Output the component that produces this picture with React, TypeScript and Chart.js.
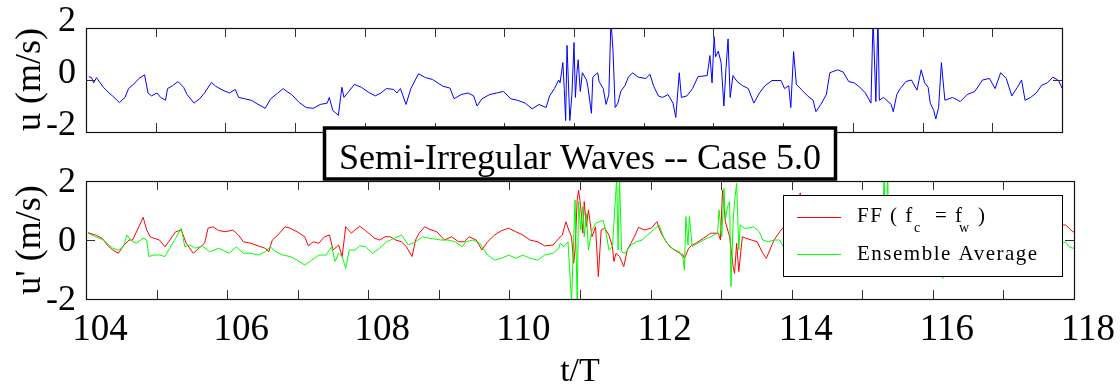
import React, { useEffect, useRef } from 'react';
import { Chart, registerables } from 'chart.js';

Chart.register(...registerables);

const SERIF = '"Liberation Serif", "Times New Roman", Times, serif';

// axis ranges and tick values
const X_MIN = 104;
const X_MAX = 118;
const xLabelValues = [104, 106, 108, 110, 112, 114, 116, 118];
const yTickValues = [-2, 0, 2];

// texts
const chartTitle = 'Semi-Irregular Waves -- Case 5.0';
const topYLabel = 'u (m/s)';
const bottomYLabel = "u' (m/s)";
const xLabel = 't/T';
const legendEnsemble = 'Ensemble Average';

// top panel: u (m/s) vs t/T   [t, u]
const uSeries: [number, number][] = [
  [104.04, 0.13], [104.08, 0.09], [104.11, -0.11], [104.15, 0.09], [104.25, -0.28], [104.33, -0.5], [104.38, -0.61],
  [104.48, -0.87], [104.56, -0.67], [104.61, -0.33], [104.68, -0.17], [104.76, 0.06], [104.84, 0.2], [104.89, -0.5],
  [104.94, -0.61], [105.02, -0.5], [105.07, -0.67], [105.14, -0.78], [105.17, -0.33], [105.24, -0.22], [105.32, -0.06],
  [105.4, -0.28], [105.45, -0.56], [105.55, -0.89], [105.63, -0.72], [105.7, -0.5], [105.8, -0.09], [105.86, -0.24],
  [105.96, -0.39], [106.06, -0.5], [106.14, -0.36], [106.19, -0.67], [106.27, -0.72], [106.37, -0.78], [106.44, -0.89],
  [106.57, -1.09], [106.65, -0.72], [106.75, -0.5], [106.83, -0.33], [106.88, -0.44], [106.95, -0.56], [107.06, -0.87],
  [107.16, -1.06], [107.26, -1.09], [107.36, -0.94], [107.46, -0.89], [107.49, -0.67], [107.54, -1.17], [107.62, -1.36],
  [107.67, -0.28], [107.7, -0.67], [107.77, -0.44], [107.85, -0.17], [107.95, -0.28], [108.05, -0.47], [108.15, -0.61],
  [108.23, -0.5], [108.31, -0.33], [108.41, -0.36], [108.46, -0.5], [108.51, -0.33], [108.59, -0.94], [108.66, -0.33],
  [108.77, 0.24], [108.87, 0.09], [108.97, 0.02], [109.12, -0.24], [109.22, -0.31], [109.28, -0.72], [109.38, -0.56],
  [109.48, -0.5], [109.56, -0.61], [109.61, -1.0], [109.68, -0.72], [109.79, -0.56], [109.89, -0.5], [109.99, -0.44],
  [110.09, -0.72], [110.19, -0.78], [110.3, -0.89], [110.4, -1.11], [110.5, -0.94], [110.6, -1.06], [110.65, -0.61],
  [110.72, -0.33], [110.78, 0.0], [110.8, -0.11], [110.84, 0.67], [110.86, -0.33], [110.88, -1.56], [110.9, 1.33],
  [110.94, -1.56], [110.97, -0.56], [111.0, 1.44], [111.02, -0.67], [111.04, 0.22], [111.06, 0.78], [111.09, -0.44],
  [111.12, 0.28], [111.18, 0.0], [111.2, -0.28], [111.25, -1.28], [111.27, 0.11], [111.34, 0.28], [111.36, -0.06],
  [111.42, -0.33], [111.46, -0.94], [111.5, -0.56], [111.53, 2.3], [111.56, 1.11], [111.59, -1.06], [111.63, -0.89],
  [111.67, -0.44], [111.73, -0.22], [111.78, 0.11], [111.84, 0.28], [111.92, 0.11], [112.03, 0.06], [112.09, 0.22],
  [112.14, -0.22], [112.21, -0.61], [112.27, -0.67], [112.35, -0.56], [112.42, -0.89], [112.46, -1.44], [112.51, 0.28],
  [112.54, -0.67], [112.62, -0.61], [112.7, -0.33], [112.78, 0.13], [112.91, 0.17], [112.95, 0.94], [112.98, -0.11],
  [113.01, 1.67], [113.03, 0.89], [113.07, 1.11], [113.11, 0.67], [113.15, -1.0], [113.18, 0.44], [113.21, 1.58],
  [113.24, -0.67], [113.28, 0.17], [113.34, -0.06], [113.42, -0.22], [113.5, -0.33], [113.58, -0.89], [113.66, -0.5],
  [113.74, -0.22], [113.84, -0.02], [113.97, -0.02], [114.02, -0.33], [114.08, -0.22], [114.11, -1.06], [114.15, 1.09],
  [114.19, -0.17], [114.27, -0.39], [114.35, -0.61], [114.43, -0.78], [114.47, -1.22], [114.54, -0.94], [114.62, -0.56],
  [114.67, 0.28], [114.78, 0.39], [114.86, 0.31], [114.94, -0.06], [115.02, -0.11], [115.1, -0.28], [115.18, -0.5],
  [115.26, -0.89], [115.29, 2.4], [115.33, -0.83], [115.36, 2.4], [115.38, -0.78], [115.44, -0.67], [115.55, -0.94],
  [115.58, -1.22], [115.63, -0.56], [115.68, -0.33], [115.76, -0.06], [115.84, 0.0], [115.92, -0.39], [115.98, 0.39],
  [116.03, -0.11], [116.08, -0.28], [116.11, -0.89], [116.16, -1.17], [116.19, -1.5], [116.23, -1.06], [116.27, 0.67],
  [116.32, -0.78], [116.43, -0.67], [116.54, -0.83], [116.64, -0.56], [116.75, -0.44], [116.86, 0.0], [116.96, 0.06],
  [117.04, -0.33], [117.12, 0.28], [117.2, 0.06], [117.28, -0.61], [117.36, -0.28], [117.42, 0.0], [117.47, -0.78],
  [117.55, -0.67], [117.63, -0.5], [117.71, -0.2], [117.79, -0.11], [117.87, 0.11], [117.95, -0.02], [118.0, -0.31],
];

// bottom panel: FF (fc = fw)   [t, u']
const ffSeries: [number, number][] = [
  [104.03, 0.25], [104.13, 0.17], [104.23, 0.06], [104.3, -0.17], [104.38, -0.34], [104.46, -0.45], [104.53, -0.2],
  [104.61, 0.0], [104.66, 0.0], [104.74, 0.4], [104.81, 0.77], [104.86, 0.34], [104.91, 0.11], [104.96, 0.06],
  [105.04, 0.0], [105.12, -0.23], [105.17, -0.06], [105.27, 0.28], [105.35, 0.34], [105.42, -0.11], [105.52, -0.45],
  [105.6, -0.28], [105.68, -0.11], [105.73, 0.4], [105.8, 0.45], [105.88, 0.32], [105.98, 0.28], [106.08, 0.34],
  [106.16, 0.17], [106.23, -0.06], [106.34, -0.11], [106.44, -0.2], [106.54, -0.28], [106.59, -0.4], [106.64, 0.0],
  [106.72, 0.17], [106.82, 0.45], [106.89, 0.4], [106.99, 0.28], [107.1, 0.11], [107.15, -0.2], [107.22, -0.06],
  [107.3, -0.11], [107.38, 0.11], [107.45, 0.17], [107.5, -0.34], [107.58, -0.17], [107.63, -0.56], [107.68, 0.45],
  [107.76, 0.23], [107.81, 0.34], [107.88, 0.47], [107.98, 0.28], [108.09, 0.06], [108.16, 0.0], [108.24, 0.11],
  [108.31, 0.11], [108.39, 0.0], [108.47, -0.06], [108.54, -0.23], [108.62, -0.56], [108.67, 0.0], [108.72, 0.23],
  [108.8, 0.45], [108.87, 0.36], [108.97, 0.28], [109.08, 0.0], [109.18, 0.11], [109.28, -0.06], [109.36, -0.06],
  [109.43, 0.11], [109.53, 0.0], [109.61, -0.34], [109.69, -0.06], [109.79, 0.17], [109.89, 0.32], [109.99, 0.4],
  [110.09, 0.28], [110.19, 0.17], [110.29, 0.0], [110.4, -0.06], [110.5, -0.2], [110.62, -0.17], [110.7, 0.06],
  [110.75, 0.17], [110.8, 0.62], [110.84, 0.34], [110.88, 0.11], [110.91, -0.79], [110.93, -0.34], [110.96, 1.36],
  [110.98, 1.69], [111.01, 1.13], [111.04, 0.23], [111.06, 1.3], [111.09, 0.45], [111.12, 1.02], [111.17, 0.11],
  [111.22, 0.45], [111.26, -1.24], [111.3, 0.34], [111.35, 0.4], [111.41, 0.17], [111.46, -0.23], [111.48, -0.73],
  [111.51, -0.45], [111.56, -0.56], [111.62, -0.9], [111.67, -0.34], [111.72, -0.11], [111.77, 0.11], [111.83, 0.43],
  [111.91, 0.34], [112.01, 0.4], [112.09, 0.62], [112.14, 0.28], [112.22, -0.06], [112.3, -0.28], [112.38, -0.4],
  [112.46, -0.51], [112.48, -0.62], [112.54, -0.28], [112.59, -0.17], [112.64, -0.11], [112.75, 0.06], [112.85, 0.23],
  [112.96, 0.23], [112.99, 0.0], [113.02, 1.69], [113.06, 0.62], [113.12, 0.11], [113.17, -0.9], [113.19, -1.13],
  [113.22, -0.11], [113.25, -1.07], [113.3, 0.11], [113.35, 0.06], [113.43, 0.0], [113.51, -0.06], [113.59, -0.45],
  [113.64, -0.62], [113.69, -0.34], [113.75, 0.0], [113.83, 0.28], [113.88, 0.43], [113.95, 0.3], [114.05, 0.45],
  [114.1, 0.2], [114.12, 1.6], [114.14, 0.3], [114.3, 0.1], [114.45, -0.4], [114.55, -0.2], [114.68, 0.6],
  [114.8, 0.8], [114.95, 0.5], [115.1, 0.3], [115.25, -0.3], [115.3, 0.9], [115.34, -0.4], [115.5, 0.1],
  [115.58, -0.5], [115.75, 0.3], [115.9, 0.4], [116.0, 0.8], [116.1, -0.2], [116.18, -0.9], [116.26, 1.0],
  [116.4, 0.1], [116.6, 0.1], [116.8, 0.5], [117.0, 0.6], [117.12, 0.8], [117.28, 0.0], [117.45, 0.4],
  [117.6, 0.2], [117.75, 0.5], [117.88, 0.51], [117.93, 0.4], [117.98, 0.28], [118.05, 0.28],
];

// bottom panel: Ensemble Average   [t, u']
const ensSeries: [number, number][] = [
  [104.03, 0.23], [104.13, 0.11], [104.23, 0.02], [104.3, -0.11], [104.38, -0.28], [104.46, -0.34], [104.53, -0.23],
  [104.58, 0.17], [104.63, 0.0], [104.71, -0.11], [104.81, 0.06], [104.86, 0.0], [104.89, -0.56], [104.96, -0.51],
  [105.04, -0.51], [105.12, -0.56], [105.17, -0.34], [105.27, 0.06], [105.35, 0.4], [105.4, -0.23], [105.47, -0.17],
  [105.55, -0.28], [105.65, -0.2], [105.75, -0.4], [105.88, -0.28], [106.03, -0.45], [106.13, -0.23], [106.23, -0.45],
  [106.34, -0.45], [106.44, -0.51], [106.54, -0.4], [106.61, -0.23], [106.69, -0.4], [106.79, -0.51], [106.89, -0.56],
  [106.99, -0.68], [107.1, -0.85], [107.2, -0.68], [107.3, -0.51], [107.4, -0.51], [107.48, -0.23], [107.53, -0.73],
  [107.58, -0.45], [107.63, -0.56], [107.68, -0.96], [107.73, -0.34], [107.81, -0.34], [107.88, -0.2], [107.96, -0.23],
  [108.06, -0.45], [108.16, -0.28], [108.26, -0.06], [108.37, 0.06], [108.47, 0.17], [108.57, -0.17], [108.67, -0.06],
  [108.77, 0.11], [108.87, 0.06], [109.03, 0.0], [109.13, 0.0], [109.23, -0.06], [109.33, -0.23], [109.38, -0.06],
  [109.48, 0.0], [109.58, -0.11], [109.69, -0.51], [109.79, -0.68], [109.89, -0.62], [109.99, -0.51], [110.09, -0.62],
  [110.19, -0.51], [110.29, -0.62], [110.4, -0.68], [110.5, -0.51], [110.62, -0.45], [110.7, -0.28], [110.72, -0.11],
  [110.77, -0.23], [110.83, -0.06], [110.88, -2.1], [110.91, 0.0], [110.93, 1.36], [110.96, -2.1], [110.98, 1.3],
  [111.01, 0.34], [111.04, 1.13], [111.06, 0.11], [111.09, 0.9], [111.12, -0.34], [111.17, 0.34], [111.22, 0.56],
  [111.27, 0.62], [111.33, 0.66], [111.37, 0.23], [111.41, -0.34], [111.46, -0.23], [111.52, 2.1], [111.54, -0.34],
  [111.56, 2.1], [111.59, -0.4], [111.64, -0.45], [111.72, -0.17], [111.8, -0.06], [111.88, 0.0], [111.96, 0.17],
  [112.04, 0.34], [112.12, 0.51], [112.19, 0.06], [112.27, -0.23], [112.35, -0.34], [112.41, -0.4], [112.46, -0.62],
  [112.48, -1.02], [112.5, 0.79], [112.53, -0.17], [112.55, 0.79], [112.59, -0.23], [112.67, -0.11], [112.75, 0.0],
  [112.85, 0.11], [112.95, 0.23], [112.97, 1.02], [113.01, 0.11], [113.04, 1.75], [113.06, 0.68], [113.09, 1.13],
  [113.12, 1.3], [113.14, -1.58], [113.17, 0.62], [113.19, 1.3], [113.22, 1.92], [113.25, -0.34], [113.27, 0.51],
  [113.33, 0.4], [113.38, 0.4], [113.46, 0.45], [113.54, 0.28], [113.59, 0.0], [113.67, -0.06], [113.75, 0.0],
  [113.83, 0.0], [113.88, -0.23], [113.95, -0.1], [114.05, 0.1], [114.12, 0.9], [114.16, -0.1], [114.3, -0.3],
  [114.45, -0.7], [114.55, -0.5], [114.68, 0.3], [114.8, 0.5], [114.95, 0.1], [115.1, -0.1], [115.25, -0.6],
  [115.28, -0.6], [115.31, 2.3], [115.33, -0.5], [115.36, 2.3], [115.38, -0.6], [115.5, -0.4], [115.58, -0.9],
  [115.75, -0.2], [115.9, -0.1], [116.0, 0.4], [116.1, -0.6], [116.14, -1.3], [116.2, -0.9], [116.26, 0.6],
  [116.4, -0.4], [116.6, -0.5], [116.8, -0.1], [117.0, -0.1], [117.12, 0.2], [117.28, -0.5], [117.45, -0.2],
  [117.6, -0.4], [117.75, -0.2], [117.88, -0.06], [117.93, -0.23], [117.98, -0.28], [118.05, -0.23],
];

const toPoints = (s: [number, number][]) => s.map(([x, y]) => ({ x, y }));

const boxTicksPlugin = {
  id: 'boxTicks',
  afterDatasetsDraw(chart: any) {
    const { ctx, chartArea: a, scales } = chart;
    const xs = scales.x;
    const ys = scales.y;
    const L = 9;
    ctx.save();
    ctx.strokeStyle = '#333';
    ctx.lineWidth = 1;
    ctx.beginPath();
    for (let v = X_MIN; v <= X_MAX; v++) {
      const px = Math.round(xs.getPixelForValue(v)) + 0.5;
      ctx.moveTo(px, a.top);
      ctx.lineTo(px, a.top + L);
      ctx.moveTo(px, a.bottom);
      ctx.lineTo(px, a.bottom - L);
    }
    for (const v of yTickValues) {
      const py = Math.round(ys.getPixelForValue(v)) + 0.5;
      ctx.moveTo(a.left, py);
      ctx.lineTo(a.left + L, py);
      ctx.moveTo(a.right, py);
      ctx.lineTo(a.right - L, py);
    }
    ctx.stroke();
    ctx.strokeStyle = '#111';
    ctx.lineWidth = 1.2;
    ctx.strokeRect(
      Math.round(a.left) + 0.5,
      Math.round(a.top) + 0.5,
      Math.round(a.right - a.left),
      Math.round(a.bottom - a.top)
    );
    ctx.restore();
  },
};

const overlayPlugin = {
  id: 'overlay',
  afterDraw(chart: any) {
    const { ctx, chartArea: a } = chart;
    ctx.save();
    // legend box
    const lx = a.left + 697;
    const ly = a.top + 14;
    const lw = 279;
    const lh = 81;
    ctx.fillStyle = '#fff';
    ctx.fillRect(lx, ly, lw, lh);
    ctx.strokeStyle = '#000';
    ctx.lineWidth = 1;
    ctx.strokeRect(lx + 0.5, ly + 0.5, lw, lh);
    ctx.lineWidth = 1.2;
    ctx.strokeStyle = '#ff0000';
    ctx.beginPath();
    ctx.moveTo(lx + 14, ly + 22.5);
    ctx.lineTo(lx + 58, ly + 22.5);
    ctx.stroke();
    ctx.strokeStyle = '#00ff00';
    ctx.beginPath();
    ctx.moveTo(lx + 14, ly + 59.5);
    ctx.lineTo(lx + 58, ly + 59.5);
    ctx.stroke();
    ctx.fillStyle = '#000';
    ctx.textBaseline = 'alphabetic';
    ctx.textAlign = 'left';
    (ctx as any).letterSpacing = '1.5px';
    ctx.font = `21px ${SERIF}`;
    const tx = lx + 74;
    ctx.fillText('FF ( f', tx, ly + 27);
    ctx.fillText('= f', tx + 78, ly + 27);
    ctx.fillText(')', tx + 121, ly + 27);
    ctx.fillText(legendEnsemble, tx, ly + 65);
    ctx.font = `14px ${SERIF}`;
    ctx.fillText('c', tx + 57, ly + 37);
    ctx.fillText('w', tx + 102, ly + 37);
    (ctx as any).letterSpacing = '0px';

    // title box
    const cx = (a.left + a.right) / 2;
    const bw = 511;
    const bx = cx - bw / 2;
    const by = 8;
    const bh = 51;
    ctx.fillStyle = '#fff';
    ctx.fillRect(bx, by, bw, bh);
    ctx.strokeStyle = '#000';
    ctx.lineWidth = 3.5;
    ctx.strokeRect(bx, by, bw, bh);
    ctx.fillStyle = '#000';
    ctx.font = `36px ${SERIF}`;
    ctx.textAlign = 'center';
    ctx.fillText(chartTitle, cx, by + 40.5);
    ctx.restore();
  },
};

const hiddenGrid = { display: false, drawTicks: false };
const hiddenBorder = { display: false };

export default function App() {
  const topRef = useRef<HTMLCanvasElement>(null);
  const botRef = useRef<HTMLCanvasElement>(null);

  useEffect(() => {
    if (!topRef.current || !botRef.current) return;
    const top = new Chart(topRef.current, {
      type: 'line',
      data: {
        datasets: [
          {
            data: toPoints(uSeries),
            borderColor: '#0000ff',
            borderWidth: 1,
            pointRadius: 0,
            tension: 0,
          },
        ],
      },
      options: {
        animation: false,
        responsive: false,
        events: [],
        layout: { padding: { left: 0, right: 58, top: 21, bottom: 19 } },
        plugins: { legend: { display: false }, tooltip: { enabled: false } },
        scales: {
          x: {
            type: 'linear',
            min: X_MIN,
            max: X_MAX,
            grid: hiddenGrid,
            border: hiddenBorder,
            ticks: { display: false, stepSize: 1 },
            afterFit: (s: any) => {
              s.height = 0;
            },
          },
          y: {
            type: 'linear',
            min: -2,
            max: 2,
            grid: hiddenGrid,
            border: hiddenBorder,
            ticks: {
              stepSize: 2,
              padding: 10,
              labelOffset: -6,
              color: '#000',
              font: { family: SERIF, size: 36, lineHeight: 1 },
              callback: (v: any) => (yTickValues.includes(Number(v)) ? String(v) : ''),
            },
            title: {
              display: true,
              text: topYLabel,
              align: 'end',
              color: '#000',
              font: { family: SERIF, size: 36, lineHeight: 1 },
              padding: { top: 13, bottom: 0 },
            },
            afterFit: (s: any) => {
              s.width = 86;
            },
          },
        },
      } as any,
      plugins: [boxTicksPlugin],
    });

    const bottom = new Chart(botRef.current, {
      type: 'line',
      data: {
        datasets: [
          {
            label: 'Ensemble Average',
            data: toPoints(ensSeries),
            borderColor: '#00ff00',
            borderWidth: 1,
            pointRadius: 0,
            tension: 0,
            order: 0,
          },
          {
            label: 'FF ( fc = fw )',
            data: toPoints(ffSeries),
            borderColor: '#ff0000',
            borderWidth: 1,
            pointRadius: 0,
            tension: 0,
            order: 1,
          },
        ],
      },
      options: {
        animation: false,
        responsive: false,
        events: [],
        layout: { padding: { left: 0, right: 46, top: 61, bottom: 0 } },
        plugins: { legend: { display: false }, tooltip: { enabled: false } },
        scales: {
          x: {
            type: 'linear',
            min: X_MIN,
            max: X_MAX,
            grid: hiddenGrid,
            border: hiddenBorder,
            ticks: {
              stepSize: 1,
              autoSkip: false,
              maxRotation: 0,
              padding: 12.5,
              labelOffset: 14,
              color: '#000',
              font: { family: SERIF, size: 37, lineHeight: 1 },
              callback: (v: any) => (xLabelValues.includes(Number(v)) ? String(v) : ''),
            },
            title: {
              display: true,
              text: xLabel,
              color: '#000',
              font: { family: SERIF, size: 34, lineHeight: 1 },
              padding: { top: 0, bottom: -4 },
            },
            afterFit: (s: any) => {
              s.height = 86;
            },
          },
          y: {
            type: 'linear',
            min: -2,
            max: 2,
            grid: hiddenGrid,
            border: hiddenBorder,
            ticks: {
              stepSize: 2,
              padding: 10,
              labelOffset: 2,
              color: '#000',
              font: { family: SERIF, size: 36, lineHeight: 1 },
              callback: (v: any) => (yTickValues.includes(Number(v)) ? String(v) : ''),
            },
            title: {
              display: true,
              text: bottomYLabel,
              color: '#000',
              font: { family: SERIF, size: 36, lineHeight: 1 },
              padding: { top: 13, bottom: 0 },
            },
            afterFit: (s: any) => {
              s.width = 86;
            },
          },
        },
      } as any,
      plugins: [boxTicksPlugin, overlayPlugin],
    });

    return () => {
      top.destroy();
      bottom.destroy();
    };
  }, []);

  return (
    <div
      style={{
        position: 'fixed',
        left: 0,
        top: 0,
        width: 1120,
        height: 385,
        background: '#fff',
        overflow: 'hidden',
      }}
    >
      <canvas
        ref={topRef}
        width={1120}
        height={160}
        style={{ position: 'absolute', left: 0, top: 0, width: 1120, height: 160 }}
      />
      <canvas
        ref={botRef}
        width={1120}
        height={265}
        style={{ position: 'absolute', left: 0, top: 120, width: 1120, height: 265 }}
      />
    </div>
  );
}
